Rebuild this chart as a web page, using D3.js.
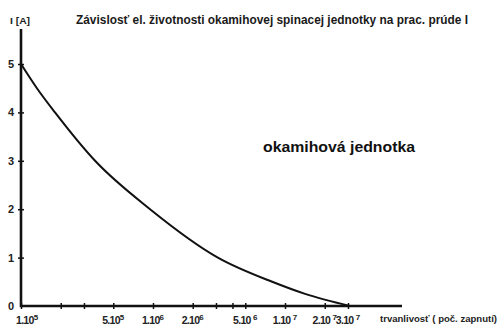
<!DOCTYPE html>
<html>
<head>
<meta charset="utf-8">
<script src="https://cdn.jsdelivr.net/npm/d3@7"></script>
<style>
  html, body { margin: 0; padding: 0; background: #fff; }
  svg { display: block; font-family: "Liberation Sans", Arial, sans-serif; font-weight: bold; }
</style>
</head>
<body>
<svg id="chart" width="500" height="327"></svg>
<script>
// Switching cycles (number of operations) vs. working current
const cycles  = [1e5, 1.32e5, 1.81e5, 3.64e5, 9.5e5, 3.1e6, 8e6, 1.42e7, 3.1e7];
const current = [5.0, 4.5, 4.0, 3.0, 2.0, 1.0, 0.5, 0.25, 0.0];

// Axis ticks
const xTicks      = [1e5, 2e5, 3e5, 5e5, 1e6, 2e6, 3e6, 4e6, 5e6, 1e7, 2e7, 3e7];
const xLabelVals  = [1e5, 5e5, 1e6, 2e6, 5e6, 1e7, 2e7, 3e7];
const xLabelMant  = ["1.10", "5.10", "1.10", "2.10", "5.10 ", "1.10 ", "2.10 ", "3.10 "];
const xLabelExp   = ["5", "5", "6", "6", "6", "7", "7", "7"];
const yTicks      = [1, 2, 3, 4, 5];

const svg = d3.select("#chart");

const x = d3.scaleLog().domain([1e5, 1e7]).range([21, 285]);
const y = d3.scaleLinear().domain([0, 5]).range([306, 64]);

// X axis
const xAxis = svg.append("g")
  .attr("transform", `translate(0,${y(0)})`)
  .call(d3.axisBottom(x).tickValues(xTicks).tickFormat("").tickSizeOuter(0));
xAxis.select(".domain").remove();
xAxis.selectAll(".tick line").attr("y1", -3).attr("y2", 3).attr("stroke", "#111").attr("stroke-width", 1.5);
svg.append("line")
  .attr("x1", x(1e5)).attr("x2", 402)
  .attr("y1", y(0)).attr("y2", y(0))
  .attr("stroke", "#111").attr("stroke-width", 2.4);

// Y axis
const yAxis = svg.append("g")
  .attr("transform", `translate(${x(1e5)},0)`)
  .call(d3.axisLeft(y).tickValues(yTicks).tickFormat("").tickSizeOuter(0));
yAxis.select(".domain").remove();
yAxis.selectAll(".tick line").attr("x1", -3).attr("x2", 3).attr("stroke", "#111").attr("stroke-width", 1.5);
svg.append("line")
  .attr("x1", x(1e5)).attr("x2", x(1e5))
  .attr("y1", 29).attr("y2", y(0) + 1.2)
  .attr("stroke", "#111").attr("stroke-width", 2.6);

// Y tick labels
svg.append("g").selectAll("text")
  .data([0].concat(yTicks))
  .join("text")
  .attr("x", 14)
  .attr("y", d => y(d) + 4)
  .attr("text-anchor", "end")
  .attr("font-size", 11)
  .attr("fill", "#222")
  .text(d => d);

// X tick labels with superscript exponents
const xl = svg.append("g").selectAll("text")
  .data(xLabelVals)
  .join("text")
  .attr("x", (d, i) => i === 0 ? x(d) - 5 : x(d))
  .attr("y", 324)
  .attr("text-anchor", (d, i) => i === 0 ? "start" : "middle")
  .attr("font-size", 10.5)
  .attr("fill", "#222");
xl.append("tspan").text((d, i) => xLabelMant[i]).attr("letter-spacing", -0.7);
xl.append("tspan").text((d, i) => xLabelExp[i]).attr("font-size", 8).attr("dy", -4);

// Axis titles
svg.append("text")
  .attr("x", 10).attr("y", 24)
  .attr("font-size", 8.5).attr("fill", "#222")
  .attr("textLength", 20).attr("lengthAdjust", "spacingAndGlyphs")
  .text("I [A]");

svg.append("text")
  .attr("x", 380).attr("y", 322)
  .attr("font-size", 9).attr("fill", "#222")
  .attr("textLength", 117).attr("lengthAdjust", "spacingAndGlyphs")
  .text("trvanlivosť ( poč. zapnutí)");

// Chart title
svg.append("text")
  .attr("x", 76).attr("y", 24)
  .attr("font-size", 12.5).attr("fill", "#1a1a1a")
  .attr("textLength", 392).attr("lengthAdjust", "spacingAndGlyphs")
  .text("Závislosť el. životnosti okamihovej spinacej jednotky na prac. prúde I");

// Curve label
svg.append("text")
  .attr("x", 263).attr("y", 152)
  .attr("font-size", 15.5).attr("fill", "#111")
  .attr("textLength", 152).attr("lengthAdjust", "spacingAndGlyphs")
  .text("okamihová jednotka");

// Curve
const pts = cycles.map((c, i) => [c, current[i]]);
svg.append("path")
  .datum(pts)
  .attr("fill", "none")
  .attr("stroke", "#111")
  .attr("stroke-width", 2)
  .attr("d", d3.line().x(d => x(d[0])).y(d => y(d[1])).curve(d3.curveMonotoneX));
</script>
</body>
</html>
